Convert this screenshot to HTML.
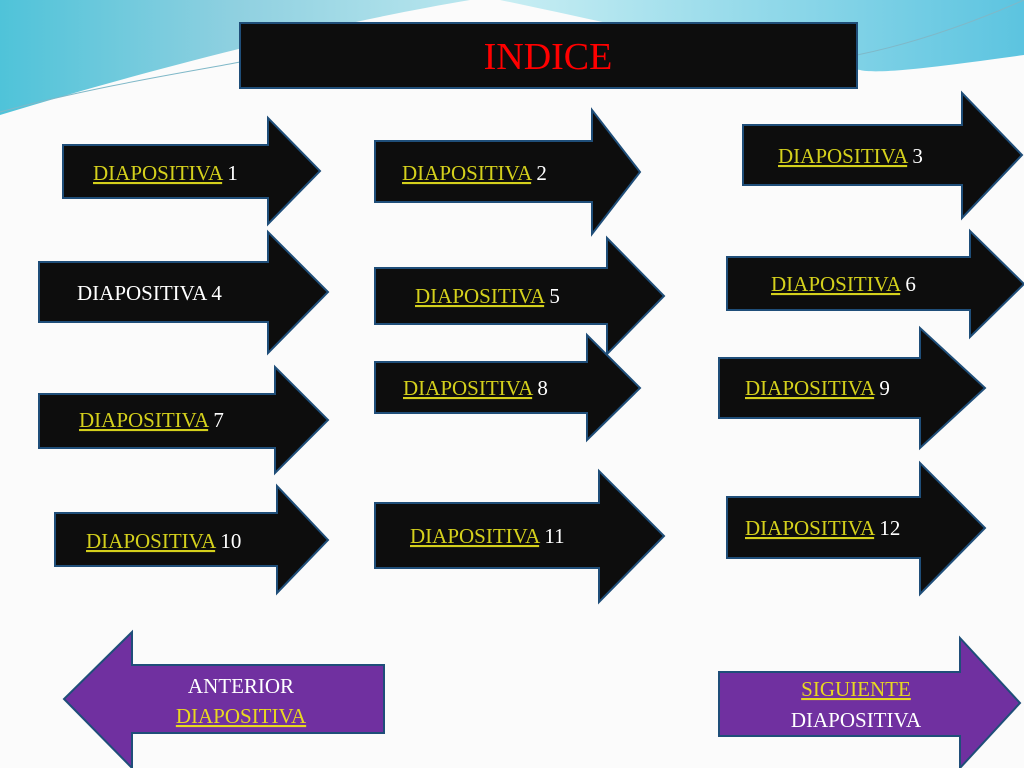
<!DOCTYPE html>
<html><head><meta charset="utf-8"><style>
html,body{margin:0;padding:0;width:1024px;height:768px;overflow:hidden;background:#fdfdfd}
svg text{font-family:"Liberation Serif",serif}
</style></head><body>
<svg width="1024" height="768" viewBox="0 0 1024 768" xmlns="http://www.w3.org/2000/svg">
<defs>
<linearGradient id="bl" x1="0" y1="0" x2="1" y2="0">
<stop offset="0" stop-color="#4fc3d9"/><stop offset="0.5" stop-color="#8fd0e0"/><stop offset="1" stop-color="#b8e6ee"/>
</linearGradient>
<linearGradient id="br" x1="0" y1="0" x2="1" y2="0">
<stop offset="0" stop-color="#c9eef3"/><stop offset="1" stop-color="#5cc4e0"/>
</linearGradient>
</defs>
<rect width="1024" height="768" fill="#fbfbfb"/>
<path d="M0,0 L470,0 C350,20 180,60 0,115 Z" fill="url(#bl)"/>
<path d="M500,0 L1024,0 L1024,55 C950,65 880,75 860,70 C720,50 620,25 500,0 Z" fill="url(#br)"/>
<path d="M0,112 C100,85 200,70 240,62" stroke="#7fb8c8" fill="none" stroke-width="1"/>
<path d="M857,55 C930,40 990,15 1024,0" stroke="#7fb8c8" fill="none" stroke-width="1"/>
<rect x="240" y="23" width="617" height="65" fill="#0d0d0d" stroke="#1f4e79" stroke-width="2"/>
<text x="548" y="69" font-size="38" fill="#ff0000" text-anchor="middle">INDICE</text>
<g fill="#0d0d0d" stroke="#1f4e79" stroke-width="2">
<polygon points="63,145 268,145 268,118 320,171 268,224 268,198 63,198"/>
<polygon points="375,141 592,141 592,110 640,172 592,234 592,202 375,202"/>
<polygon points="743,125 962,125 962,93 1022,155 962,218 962,185 743,185"/>
<polygon points="39,262 268,262 268,232 328,292 268,353 268,322 39,322"/>
<polygon points="375,268 607,268 607,238 664,296 607,354 607,324 375,324"/>
<polygon points="727,257 970,257 970,231 1024,284 970,337 970,310 727,310"/>
<polygon points="39,394 275,394 275,367 328,420 275,473 275,448 39,448"/>
<polygon points="375,362 587,362 587,335 640,388 587,440 587,413 375,413"/>
<polygon points="719,358 920,358 920,328 985,388 920,448 920,418 719,418"/>
<polygon points="55,513 277,513 277,486 328,540 277,593 277,566 55,566"/>
<polygon points="375,503 599,503 599,471 664,536 599,602 599,568 375,568"/>
<polygon points="727,497 920,497 920,463 985,528 920,594 920,558 727,558"/>
</g>
<g fill="#7030a0" stroke="#1f4e79" stroke-width="2">
<polygon points="384,665 132,665 132,632 64,699 132,768 132,733 384,733"/>
<polygon points="719,672 960,672 960,638 1020,703 960,768 960,736 719,736"/>
</g>
<g font-size="21" fill="#fff">
<text x="93" y="180"><tspan fill="#d4d01c" text-decoration="underline">DIAPOSITIVA</tspan> 1</text>
<text x="402" y="180"><tspan fill="#d4d01c" text-decoration="underline">DIAPOSITIVA</tspan>  2</text>
<text x="778" y="163"><tspan fill="#d4d01c" text-decoration="underline">DIAPOSITIVA</tspan>  3</text>
<text x="77" y="300">DIAPOSITIVA  4</text>
<text x="415" y="303"><tspan fill="#d4d01c" text-decoration="underline">DIAPOSITIVA</tspan>  5</text>
<text x="771" y="291"><tspan fill="#d4d01c" text-decoration="underline">DIAPOSITIVA</tspan>  6</text>
<text x="79" y="427"><tspan fill="#d4d01c" text-decoration="underline">DIAPOSITIVA</tspan>  7</text>
<text x="403" y="395"><tspan fill="#d4d01c" text-decoration="underline">DIAPOSITIVA</tspan>  8</text>
<text x="745" y="395"><tspan fill="#d4d01c" text-decoration="underline">DIAPOSITIVA</tspan>  9</text>
<text x="86" y="548"><tspan fill="#d4d01c" text-decoration="underline">DIAPOSITIVA</tspan> 10</text>
<text x="410" y="543"><tspan fill="#d4d01c" text-decoration="underline">DIAPOSITIVA</tspan>  11</text>
<text x="745" y="535"><tspan fill="#d4d01c" text-decoration="underline">DIAPOSITIVA</tspan>  12</text>
<text x="241" y="693" text-anchor="middle">ANTERIOR</text>
<text x="241" y="723" text-anchor="middle" fill="#e8d820" text-decoration="underline">DIAPOSITIVA</text>
<text x="856" y="696" text-anchor="middle" fill="#e8d820" text-decoration="underline">SIGUIENTE</text>
<text x="856" y="727" text-anchor="middle">DIAPOSITIVA</text>
</g>
</svg>
</body></html>
